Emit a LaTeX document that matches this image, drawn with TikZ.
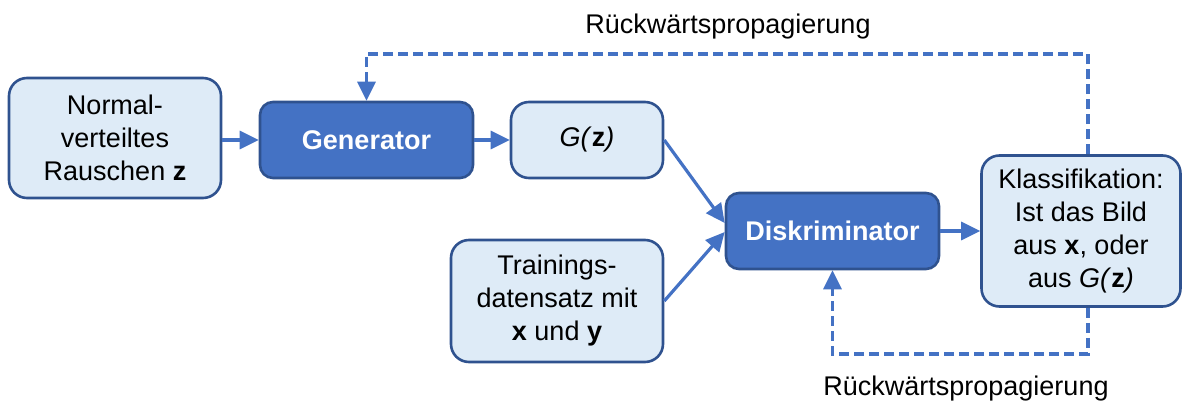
\documentclass[tikz,border=0pt]{standalone}
\usepackage{fontspec}
\setmainfont{Liberation Sans}
\usetikzlibrary{arrows.meta,calc}

\definecolor{accent}{HTML}{4472C4}
\definecolor{edge}{HTML}{2F528F}
\definecolor{pale}{HTML}{DEEBF7}

\tikzset{
  x=1pt, y=-1pt,
  base/.style={rectangle, draw=edge, line width=2.6pt, inner sep=0pt,
    align=center, font=\fontsize{27}{33}\selectfont},
  lightbox/.style={base, fill=pale, rounded corners=18pt, text=black},
  darkbox/.style={base, fill=accent, rounded corners=13pt, text=white,
    font=\fontsize{27}{33}\selectfont\bfseries},
  flow/.style={draw=accent, line width=3.2pt,
    -{Triangle[length=19pt,width=18pt]}},
  back/.style={flow, dash pattern=on 10pt off 5pt},
  caption/.style={font=\fontsize{27}{33}\selectfont, text=black}
}

\begin{document}
\begin{tikzpicture}
\useasboundingbox (0,0) rectangle (1187,403);

\node[lightbox, minimum width=212pt, minimum height=120pt] (noise) at (115,138)
  {Normal-\\verteiltes\\Rauschen \textbf{z}};
\node[darkbox, minimum width=213pt, minimum height=76pt] (gen) at (366.5,140)
  {Generator};
\node[lightbox, minimum width=152pt, minimum height=76pt] (gz) at (587,140)
  {\textit{G(}\textbf{z}\textit{)}};
\node[lightbox, minimum width=212pt, minimum height=122pt] (train) at (557,301)
  {Trainings-\\datensatz mit\\\textbf{x} und \textbf{y}};
\node[darkbox, minimum width=213pt, minimum height=76pt] (disc) at (832.5,231)
  {Diskriminator};
\node[lightbox, minimum width=199pt, minimum height=151pt] (cls) at (1081,231)
  {Klassifikation:\\Ist das Bild\\aus \textbf{x}, oder\\aus \textit{G(}\textbf{z}\textit{)}};

\node[caption] (topcap) at (728,27) {Rückwärtspropagierung};
\node[caption] (botcap) at (966,389) {Rückwärtspropagierung};

% forward flow
\draw[flow] (gen.west -| noise.east) -- (gen.west);
\draw[flow] (gen.east) -- (gz.west);
\draw[flow] (gz.east) -- ([yshift=8pt]disc.west);
\draw[flow] (train.east) -- ([yshift=-1pt]disc.west);
\draw[flow] (disc.east) -- (cls.west);

% feedback paths
\coordinate (ctop) at (1088,54);
\coordinate (cbot) at (1088,354);
\draw[back] (cls.north -| ctop) -- (ctop) -| (gen.north);
\draw[back] (cls.south -| cbot) -- (cbot) -| (disc.south);
\end{tikzpicture}
\end{document}
